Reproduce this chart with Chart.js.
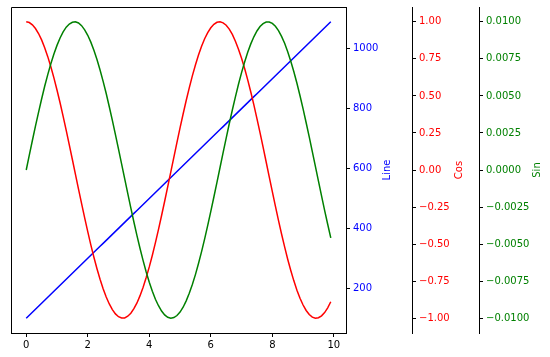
<!DOCTYPE html>
<html>
<head>
<meta charset="utf-8">
<script src="https://cdn.jsdelivr.net/npm/chart.js@4/dist/chart.umd.min.js"></script>
<style>html,body{margin:0;padding:0;background:#fff;}canvas{display:block;}</style>
</head>
<body>
<canvas id="c" width="550" height="357"></canvas>
<script>
const xValues = [0,0.1,0.2,0.3,0.4,0.5,0.6,0.7,0.8,0.9,1,1.1,1.2,1.3,1.4,1.5,1.6,1.7,1.8,1.9,2,2.1,2.2,2.3,2.4,2.5,2.6,2.7,2.8,2.9,3,3.1,3.2,3.3,3.4,3.5,3.6,3.7,3.8,3.9,4,4.1,4.2,4.3,4.4,4.5,4.6,4.7,4.8,4.9,5,5.1,5.2,5.3,5.4,5.5,5.6,5.7,5.8,5.9,6,6.1,6.2,6.3,6.4,6.5,6.6,6.7,6.8,6.9,7,7.1,7.2,7.3,7.4,7.5,7.6,7.7,7.8,7.9,8,8.1,8.2,8.3,8.4,8.5,8.6,8.7,8.8,8.9,9,9.1,9.2,9.3,9.4,9.5,9.6,9.7,9.8,9.9];
const lineValues = [100,110,120,130,140,150,160,170,180,190,200,210,220,230,240,250,260,270,280,290,300,310,320,330,340,350,360,370,380,390,400,410,420,430,440,450,460,470,480,490,500,510,520,530,540,550,560,570,580,590,600,610,620,630,640,650,660,670,680,690,700,710,720,730,740,750,760,770,780,790,800,810,820,830,840,850,860,870,880,890,900,910,920,930,940,950,960,970,980,990,1000,1010,1020,1030,1040,1050,1060,1070,1080,1090];
const cosValues = [1.000,0.995,0.980,0.955,0.921,0.878,0.825,0.765,0.697,0.622,0.540,0.454,0.362,0.267,0.170,0.071,-0.029,-0.129,-0.227,-0.323,-0.416,-0.505,-0.589,-0.666,-0.737,-0.801,-0.857,-0.904,-0.942,-0.971,-0.990,-0.999,-0.998,-0.987,-0.967,-0.936,-0.897,-0.848,-0.791,-0.726,-0.654,-0.575,-0.490,-0.401,-0.307,-0.211,-0.112,-0.012,0.087,0.187,0.284,0.378,0.469,0.554,0.635,0.709,0.776,0.835,0.886,0.927,0.960,0.983,0.997,1.000,0.993,0.977,0.951,0.915,0.869,0.815,0.754,0.685,0.608,0.526,0.439,0.347,0.252,0.154,0.054,-0.046,-0.146,-0.244,-0.340,-0.432,-0.519,-0.602,-0.678,-0.748,-0.811,-0.866,-0.911,-0.948,-0.975,-0.993,-1.000,-0.997,-0.984,-0.962,-0.930,-0.889];
const sinValues = [0,0.000998,0.00199,0.00296,0.00389,0.00479,0.00565,0.00644,0.00717,0.00783,0.00841,0.00891,0.00932,0.00964,0.00985,0.00997,0.01000,0.00992,0.00974,0.00946,0.00909,0.00863,0.00808,0.00746,0.00675,0.00598,0.00516,0.00427,0.00335,0.00239,0.00141,0.000416,-0.000584,-0.00158,-0.00256,-0.00351,-0.00443,-0.00530,-0.00612,-0.00688,-0.00757,-0.00818,-0.00872,-0.00916,-0.00952,-0.00978,-0.00994,-0.01000,-0.00996,-0.00982,-0.00959,-0.00926,-0.00883,-0.00832,-0.00773,-0.00706,-0.00631,-0.00551,-0.00465,-0.00374,-0.00279,-0.00182,-0.000831,0.000168,0.00117,0.00215,0.00312,0.00405,0.00494,0.00579,0.00657,0.00729,0.00794,0.00851,0.00899,0.00938,0.00968,0.00988,0.00999,0.00999,0.00989,0.00970,0.00941,0.00902,0.00855,0.00798,0.00734,0.00663,0.00585,0.00501,0.00412,0.00319,0.00223,0.00124,0.000248,-0.000752,-0.00175,-0.00272,-0.00366,-0.00458];
const xTicks = [0,2,4,6,8,10];
const lineTicks = [200,400,600,800,1000];
const cosTicks = [-1,-0.75,-0.5,-0.25,0,0.25,0.5,0.75,1];
const sinTicks = [-0.01,-0.0075,-0.005,-0.0025,0,0.0025,0.005,0.0075,0.01];
const axisTitles = {yLine:'Line', yCos:'Cos', ySin:'Sin'};

const FONT = 'DejaVu Sans';
const minus = s => s.replace('-', '\u2212');
const pts = vals => xValues.map((x,i)=>({x:x, y:vals[i]}));

function yAxis(ticksArr, min, max, color, width, fmt){
  return {
    type:'linear', position:'right', min:min, max:max,
    afterBuildTicks: s => { s.ticks = ticksArr.map(v=>({value:v})); },
    afterFit: s => { s.width = width; s.paddingTop = 0; s.paddingBottom = 0; s.paddingLeft = 0; s.paddingRight = 0; },
    border:{display:true, color:'#000', width:1},
    grid:{drawOnChartArea:false, drawTicks:true, tickLength:4, color:'#000', tickColor:'#000', lineWidth:1},
    ticks:{color:color, padding:3, font:{family:FONT, size:10}, callback:v=>fmt(v)}
  };
}

const framePlugin = {
  id:'frame',
  afterDraw(chart){
    const ctx = chart.ctx, a = chart.chartArea;
    ctx.save();
    ctx.strokeStyle = '#000'; ctx.lineWidth = 1;
    ctx.beginPath();
    ctx.moveTo(Math.round(a.left)+0.5, Math.round(a.bottom));
    ctx.lineTo(Math.round(a.left)+0.5, Math.round(a.top)+0.5);
    ctx.lineTo(Math.round(a.right), Math.round(a.top)+0.5);
    ctx.stroke();
    const specs = [['yLine','#0000ff',41],['yCos','#ff0000',47],['ySin','#008000',58]];
    ctx.font = '10px "' + FONT + '"';
    ctx.textAlign = 'center'; ctx.textBaseline = 'middle';
    specs.forEach(([id,col,off])=>{
      const s = chart.scales[id];
      ctx.save();
      ctx.translate(s.left + off, (a.top + a.bottom)/2);
      ctx.rotate(-Math.PI/2);
      ctx.fillStyle = col;
      ctx.fillText(axisTitles[id], 0, 0);
      ctx.restore();
    });
    ctx.restore();
  }
};

new Chart(document.getElementById('c'), {
  type:'line',
  data:{datasets:[
    {label:'Line', data:pts(lineValues), yAxisID:'yLine', borderColor:'#0000ff', borderWidth:1.5, pointRadius:0, tension:0, order:3},
    {label:'Cos', data:pts(cosValues), yAxisID:'yCos', borderColor:'#ff0000', borderWidth:1.5, pointRadius:0, tension:0, order:2},
    {label:'Sin', data:pts(sinValues), yAxisID:'ySin', borderColor:'#008000', borderWidth:1.5, pointRadius:0, tension:0, order:1}
  ]},
  options:{
    responsive:false, animation:false, devicePixelRatio:1,
    layout:{padding:{left:11, top:7, right:0, bottom:0}},
    plugins:{legend:{display:false}, tooltip:{enabled:false}},
    scales:{
      x:{type:'linear', position:'bottom', min:-0.495, max:10.395,
        afterBuildTicks: s => { s.ticks = xTicks.map(v=>({value:v})); },
        afterFit: s => { s.height = 24; s.paddingLeft = 0; s.paddingRight = 0; s.paddingTop = 0; s.paddingBottom = 0; },
        border:{display:true, color:'#000', width:1},
        grid:{drawOnChartArea:false, drawTicks:true, tickLength:4, color:'#000', tickColor:'#000'},
        ticks:{color:'#000', padding:2, maxRotation:0, font:{family:FONT, size:10}, callback:v=>String(v)}
      },
      yLine: yAxis(lineTicks, 50.5, 1139.5, '#0000ff', 66, v=>String(v)),
      yCos: yAxis(cosTicks, -1.1, 1.1, '#ff0000', 67, v=>minus(v.toFixed(2))),
      ySin: yAxis(sinTicks, -0.011, 0.011, '#008000', 71, v=>minus(v.toFixed(4)))
    }
  },
  plugins:[framePlugin]
});
</script>
</body>
</html>
